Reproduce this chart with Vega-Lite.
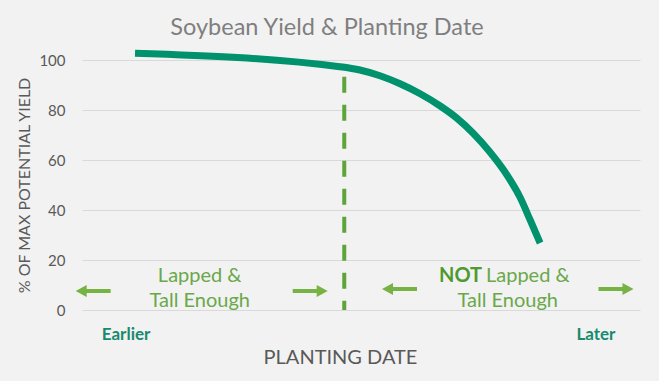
{
  "$schema": "https://vega.github.io/schema/vega-lite/v6.json",
  "autosize": {"type": "none"},
  "width": 558,
  "height": 250,
  "padding": {"left": 82, "top": 60, "right": 19, "bottom": 71},
  "background": "#f2f2f2",
  "config": {"view": {"stroke": null}, "font": "Lato"},
  "title": {"text": "Soybean Yield & Planting Date", "font": "Lato", "fontSize": 23.5, "fontWeight": "normal", "color": "#7f7f7f", "anchor": "middle", "frame": "group", "dx": -34, "offset": 0},
  "datasets": {
    "curve": [
      {"x": 9.5, "y": 102.7},
      {"x": 46.2, "y": 97.3},
      {"x": 49.8, "y": 96.0},
      {"x": 53.4, "y": 93.7},
      {"x": 57.0, "y": 90.5},
      {"x": 60.6, "y": 86.5},
      {"x": 64.2, "y": 81.6},
      {"x": 67.2, "y": 76.7},
      {"x": 70.1, "y": 70.7},
      {"x": 73.1, "y": 63.2},
      {"x": 76.1, "y": 54.2},
      {"x": 78.5, "y": 45.1},
      {"x": 80.3, "y": 36.1},
      {"x": 82.1, "y": 26.8}
    ],
    "cutoff": [{"x": 47, "y0": 0, "y1": 93.3}],
    "arrows": [
      {"x": 2.0, "y": 7.6, "dir": "left"},
      {"x": 40.9, "y": 7.6, "dir": "right"},
      {"x": 56.9, "y": 8.4, "dir": "left"},
      {"x": 95.7, "y": 8.4, "dir": "right"}
    ],
    "centered": [
      {"x": 21.1, "y": 13.6, "t": "Lapped &"},
      {"x": 21.1, "y": 3.6, "t": "Tall Enough"},
      {"x": 76.3, "y": 3.6, "t": "Tall Enough"}
    ],
    "leftal": [{"x": 72.4, "y": 13.6, "t": "Lapped &"}],
    "bold": [{"x": 71.7, "y": 13.6, "t": "NOT"}],
    "ends": [
      {"x": 7.9, "y": -10, "t": "Earlier"},
      {"x": 92.1, "y": -10, "t": "Later"}
    ]
  },
  "layer": [
    {
      "data": {"name": "curve"},
      "mark": {"type": "line", "color": "#00916d", "strokeWidth": 7, "interpolate": "monotone", "strokeCap": "butt", "clip": false},
      "encoding": {
        "x": {"field": "x", "type": "quantitative", "scale": {"domain": [0, 100], "nice": false, "zero": false},
          "axis": {"title": "PLANTING DATE", "labels": false, "ticks": false, "domain": false, "grid": false, "titleFont": "Lato", "titleFontSize": 20, "titleFontWeight": "normal", "titleColor": "#595959", "titleX": 258, "titleY": 47, "titleBaseline": "middle"}},
        "y": {"field": "y", "type": "quantitative", "scale": {"domain": [0, 100], "nice": false},
          "axis": {"title": "% OF MAX POTENTIAL YIELD", "values": [0, 20, 40, 60, 80, 100], "ticks": false, "domain": false, "gridColor": "#d9d9d9", "gridWidth": 1, "labelFont": "Lato", "labelFontSize": 15, "labelColor": "#595959", "labelPadding": 17, "titleFont": "Lato", "titleFontSize": 16, "titleFontWeight": "normal", "titleColor": "#595959", "titlePadding": 6}}
      }
    },
    {
      "data": {"name": "cutoff"},
      "mark": {"type": "rule", "color": "#5ea43a", "strokeWidth": 4, "strokeDash": [16, 12]},
      "encoding": {
        "x": {"field": "x", "type": "quantitative"},
        "y": {"field": "y1", "type": "quantitative"},
        "y2": {"field": "y0"}
      }
    },
    {
      "data": {"name": "arrows"},
      "mark": {"type": "point", "filled": true, "opacity": 1, "color": "#77b244", "size": 1225},
      "encoding": {
        "x": {"field": "x", "type": "quantitative"},
        "y": {"field": "y", "type": "quantitative"},
        "shape": {"field": "dir", "type": "nominal", "legend": null,
          "scale": {"domain": ["left", "right"], "range": [
            "M 1 -0.115 L -0.37 -0.115 L -0.37 -0.34 L -1 0 L -0.37 0.34 L -0.37 0.115 L 1 0.115 Z",
            "M -1 -0.115 L 0.37 -0.115 L 0.37 -0.34 L 1 0 L 0.37 0.34 L 0.37 0.115 L -1 0.115 Z"
          ]}}
      }
    },
    {
      "data": {"name": "centered"},
      "mark": {"type": "text", "font": "Lato", "fontSize": 20, "color": "#6aa84a", "baseline": "middle", "align": "center"},
      "encoding": {
        "x": {"field": "x", "type": "quantitative"},
        "y": {"field": "y", "type": "quantitative"},
        "text": {"field": "t"}
      }
    },
    {
      "data": {"name": "leftal"},
      "mark": {"type": "text", "font": "Lato", "fontSize": 20, "color": "#6aa84a", "baseline": "middle", "align": "left"},
      "encoding": {
        "x": {"field": "x", "type": "quantitative"},
        "y": {"field": "y", "type": "quantitative"},
        "text": {"field": "t"}
      }
    },
    {
      "data": {"name": "bold"},
      "mark": {"type": "text", "font": "Lato", "fontSize": 20, "fontWeight": "bold", "color": "#4e9a30", "baseline": "middle", "align": "right"},
      "encoding": {
        "x": {"field": "x", "type": "quantitative"},
        "y": {"field": "y", "type": "quantitative"},
        "text": {"field": "t"}
      }
    },
    {
      "data": {"name": "ends"},
      "mark": {"type": "text", "font": "Lato", "fontSize": 17, "fontWeight": "bold", "color": "#178a6f", "baseline": "middle", "align": "center"},
      "encoding": {
        "x": {"field": "x", "type": "quantitative"},
        "y": {"field": "y", "type": "quantitative"},
        "text": {"field": "t"}
      }
    }
  ]
}
